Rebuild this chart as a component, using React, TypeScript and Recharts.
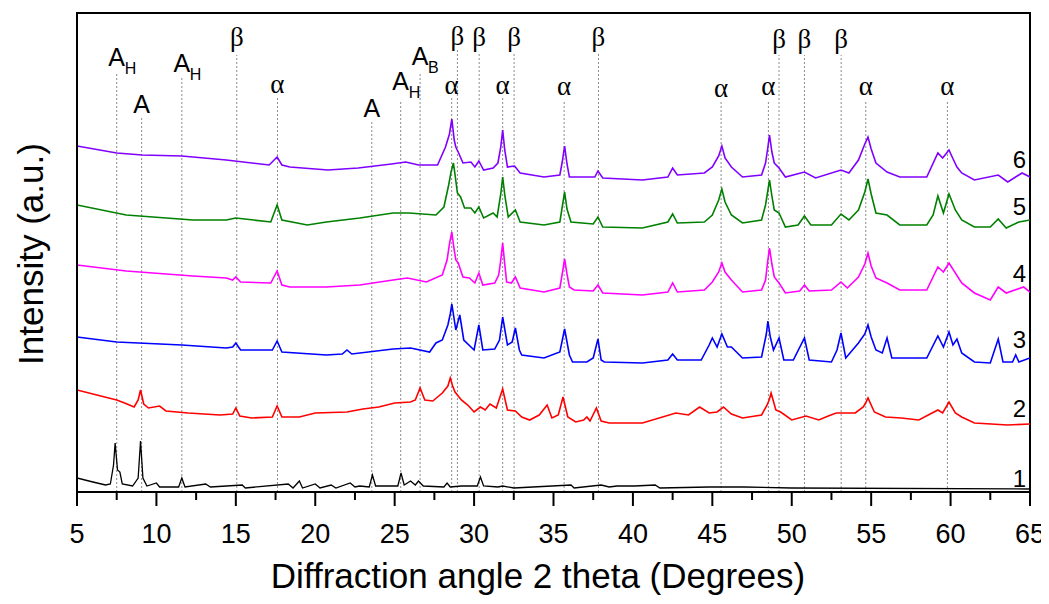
import React from "react";
import {
  LineChart,
  Line,
  XAxis,
  YAxis,
  ReferenceLine,
  ReferenceDot,
  ReferenceArea,
  LabelList,
} from "recharts";

// 2 theta (deg), intensity (a.u., offset per sample)
const trace1: [number, number][] = [
  [5, 14], [6, 10], [6.8, 7], [7.1, 8], [7.3, 27], [7.4, 49], [7.55, 22], [7.7, 20], [7.85, 8],
  [8.5, 6], [8.85, 14], [9.0, 51], [9.15, 14], [9.4, 6], [10.0, 9], [10.2, 5], [11.4, 5], [11.6, 14],
  [11.8, 5], [13.1, 8], [13.4, 5], [15.4, 7], [15.6, 4], [18.3, 8], [18.6, 4], [19.0, 11], [19.2, 4],
  [20.0, 8], [20.3, 4], [21.0, 7], [21.3, 4], [22.2, 9], [22.5, 5], [22.8, 6], [23.4, 5], [23.6, 17],
  [23.8, 6], [25.2, 6], [25.4, 19], [25.6, 7], [26.0, 11], [26.3, 7], [26.5, 11], [26.8, 6], [28.1, 5],
  [28.3, 9], [28.5, 5], [29.2, 6], [30.2, 6], [30.4, 15], [30.6, 6], [31.5, 5], [31.8, 6], [32.5, 4],
  [36.1, 7], [36.3, 4], [38.0, 7], [38.5, 5], [39.0, 6], [39.6, 6], [40.1, 6], [41.4, 7], [41.7, 4],
  [44.8, 5], [47.0, 5], [50, 4], [65, 3],
];

const trace2: [number, number][] = [
  [5, 102], [6, 98], [7, 94], [7.5, 92], [8, 89], [8.6, 85], [8.85, 92], [9.0, 102], [9.2, 88], [9.5, 84],
  [10.2, 86], [10.6, 81], [12, 79], [14, 77], [14.8, 78], [15.0, 84], [15.25, 76], [16, 74], [17.3, 75],
  [17.6, 86], [17.9, 75], [19, 75], [20, 79], [22, 80], [23, 83], [24, 85], [25, 89], [26, 90], [26.3, 92],
  [26.6, 104], [26.9, 92], [27.4, 91], [28, 99], [28.35, 106], [28.5, 114], [28.65, 106], [28.8, 100],
  [29.2, 92], [29.6, 87], [30, 80], [30.4, 85], [30.7, 82], [31, 88], [31.4, 84], [31.8, 103], [32.1, 82],
  [32.6, 81], [33, 75], [33.5, 72], [34.1, 77], [34.6, 87], [34.9, 74], [35.3, 77], [35.6, 95], [35.9, 75],
  [36.4, 70], [36.9, 72], [37.1, 75], [37.3, 71], [37.7, 84], [38, 71], [38.5, 69], [40.6, 69], [42.7, 79],
  [43.5, 77], [44.2, 85], [44.8, 79], [45.3, 80], [45.7, 85], [46.2, 78], [46.9, 74], [48.1, 77],
  [48.45, 87], [48.6, 93], [48.7, 99], [49, 82], [49.3, 80], [50, 72], [50.9, 76], [51.7, 72], [52.3, 76],
  [52.8, 79], [54, 79], [54.5, 85], [54.65, 89], [54.8, 94], [55.0, 87], [55.2, 80], [55.9, 75], [56.9, 74],
  [58, 72], [59.2, 82], [59.5, 79], [59.9, 90], [60.3, 79], [60.7, 75], [61.5, 69], [63.6, 67], [65, 68],
];

const trace3: [number, number][] = [
  [5, 155], [7.5, 150], [11.6, 147], [14.4, 144], [14.8, 145], [15.0, 149], [15.3, 142], [17.3, 142],
  [17.6, 151], [17.9, 140], [20.7, 137], [21.7, 138], [22.0, 142], [22.3, 138], [24.9, 143], [26, 144],
  [27.2, 140], [27.6, 149], [28, 152], [28.35, 167], [28.5, 178], [28.6, 188], [28.85, 162], [29.1, 177],
  [29.35, 152], [30, 142], [30.3, 167], [30.55, 142], [31.3, 143], [31.6, 152], [31.8, 175], [32.1, 147],
  [32.4, 150], [32.6, 164], [32.85, 142], [33, 137], [34.4, 134], [35.4, 140], [35.7, 163], [36, 137],
  [36.2, 130], [37.1, 130], [37.5, 134], [37.8, 153], [38, 132], [38.2, 130], [40.6, 129], [42.2, 132],
  [42.5, 138], [42.8, 132], [44.3, 132], [44.8, 147], [45, 154], [45.3, 145], [45.6, 158], [45.95, 145],
  [46.2, 145], [46.9, 134], [48.1, 135], [48.4, 158], [48.5, 171], [48.65, 155], [48.85, 142], [49.2, 154],
  [49.5, 132], [50.1, 132], [50.8, 154], [51.1, 132], [52.5, 130], [52.85, 142], [53.1, 159], [53.4, 134],
  [54.2, 149], [54.6, 158], [54.8, 167], [55.0, 155], [55.3, 142], [55.7, 139], [56, 154], [56.3, 134],
  [58.5, 134], [59.2, 156], [59.55, 145], [59.9, 160], [60.15, 147], [60.4, 153], [60.7, 139], [61.5, 130],
  [62.5, 129], [63, 153], [63.3, 130], [63.9, 130], [64.1, 137], [64.3, 130], [65, 134],
];

const trace4: [number, number][] = [
  [5, 227], [8.1, 221], [12.3, 216], [14.4, 214], [14.8, 212], [15.0, 215], [15.3, 210], [17.2, 209],
  [17.6, 221], [17.9, 207], [18.4, 205], [20.7, 205], [22.8, 207], [24.9, 212], [25.8, 214], [27, 210],
  [28, 217], [28.3, 232], [28.45, 248], [28.6, 260], [28.72, 245], [28.85, 232], [29, 229], [29.3, 215],
  [29.7, 214], [30.05, 209], [30.3, 219], [30.55, 207], [31.3, 209], [31.55, 217], [31.68, 232], [31.8, 249],
  [31.93, 228], [32.05, 210], [32.35, 209], [32.6, 215], [32.9, 204], [34.4, 200], [35.4, 204], [35.57, 220],
  [35.7, 233], [35.85, 218], [36, 205], [36.3, 202], [37.5, 201], [37.8, 207], [38.1, 199], [40.6, 197],
  [42.2, 200], [42.5, 209], [42.8, 200], [44.5, 202], [45, 210], [45.4, 220], [45.6, 229], [45.8, 220],
  [46.2, 212], [46.9, 200], [48.1, 202], [48.35, 212], [48.48, 230], [48.6, 244], [48.75, 228], [48.9, 215],
  [49.2, 209], [49.6, 199], [50.5, 201], [50.8, 207], [51.1, 201], [52.5, 202], [53.1, 210], [53.5, 204],
  [54.2, 215], [54.6, 228], [54.8, 239], [55.0, 226], [55.3, 214], [56, 209], [56.8, 202], [58.5, 202],
  [59.2, 225], [59.55, 220], [59.9, 229], [60.7, 209], [61.5, 199], [62.5, 192], [63, 205], [63.5, 199],
  [64.6, 205], [65, 200],
];

const trace5: [number, number][] = [
  [5, 287], [8.1, 277], [12.3, 272], [14.4, 272], [15, 274], [17.2, 270], [17.6, 287], [17.9, 272],
  [19.5, 267], [20.7, 270], [22.8, 274], [24.9, 279], [25.9, 279], [27.6, 277], [28.1, 285], [28.4, 307],
  [28.55, 320], [28.7, 329], [28.82, 315], [28.95, 299], [29.15, 295], [29.4, 284], [29.8, 284], [30.05, 279],
  [30.3, 285], [30.6, 274], [31.2, 279], [31.45, 275], [31.68, 298], [31.8, 315], [31.95, 295], [32.15, 275],
  [32.6, 282], [32.9, 270], [34.4, 267], [35.4, 270], [35.55, 285], [35.7, 300], [35.85, 283], [36.1, 270],
  [37.5, 268], [37.8, 275], [38.1, 265], [40.6, 264], [42.2, 270], [42.5, 278], [42.8, 269], [44.5, 270],
  [45, 277], [45.4, 292], [45.6, 303], [45.8, 290], [46.2, 277], [46.9, 269], [48.1, 272], [48.35, 287],
  [48.48, 300], [48.6, 312], [48.75, 296], [48.9, 282], [49.2, 279], [49.6, 265], [50.4, 267], [50.8, 276],
  [51.2, 267], [52.5, 267], [53.1, 278], [53.6, 272], [54.2, 282], [54.6, 300], [54.8, 313], [55.0, 298],
  [55.3, 279], [56, 277], [56.8, 267], [58.5, 267], [58.9, 277], [59.2, 296], [59.55, 279], [59.9, 298],
  [60.3, 282], [60.7, 272], [61.5, 265], [62.5, 265], [63, 273], [63.5, 264], [64.3, 270], [65, 272],
];

const trace6: [number, number][] = [
  [5, 346], [7.5, 339], [9.1, 337], [11.6, 336], [14.4, 332], [17.1, 327], [17.6, 335], [17.9, 327],
  [18.4, 325], [20.8, 322], [22.7, 324], [24.8, 328], [25.7, 330], [26.5, 327], [27.7, 327], [28.2, 345],
  [28.45, 358], [28.6, 373], [28.75, 352], [28.85, 345], [29, 340], [29.3, 329], [29.8, 330], [30.05, 325],
  [30.3, 331], [30.6, 322], [31.2, 324], [31.5, 329], [31.68, 345], [31.8, 362], [31.93, 342], [32.1, 325],
  [32.55, 326], [32.9, 319], [34.4, 315], [35.4, 317], [35.55, 330], [35.7, 346], [35.85, 328], [36, 315],
  [37.6, 315], [37.8, 321], [38.1, 314], [40.6, 312], [42.2, 315], [42.5, 324], [42.8, 317], [44.5, 319],
  [45, 325], [45.4, 336], [45.6, 346], [45.8, 334], [46.2, 325], [46.9, 315], [48.1, 317], [48.35, 329],
  [48.5, 345], [48.6, 357], [48.75, 340], [48.9, 329], [49.2, 324], [49.6, 315], [50.8, 320], [51.5, 314],
  [53.1, 322], [53.6, 319], [54.2, 332], [54.6, 348], [54.8, 355], [55.0, 343], [55.3, 329], [56, 320],
  [56.8, 315], [58.5, 315], [59.2, 339], [59.5, 334], [59.9, 342], [60.1, 335], [60.4, 325], [60.7, 319],
  [61.5, 312], [63, 317], [63.6, 310], [64.5, 319], [65, 315],
];

const sampleNames = ["1", "2", "3", "4", "5", "6"];

// phase markers
const markerPos = [7.5, 9.07, 11.6, 15.06, 17.62, 23.56, 25.38, 26.6, 28.59, 28.95, 30.32, 31.8, 32.52, 35.67, 37.83, 45.55, 48.53, 49.2, 50.8, 53.11, 54.66, 59.8];
const markerPhase = ["A", "A", "A", "β", "α", "A", "A", "A", "α", "β", "β", "α", "β", "α", "β", "α", "α", "β", "β", "β", "α", "α"];
const markerSub = ["H", "", "H", "", "", "", "H", "B", "", "", "", "", "", "", "", "", "", "", "", "", "", ""];
const markerLabelY = [426, 379, 420, 446, 399, 375, 402, 427, 398, 447, 446, 398, 446, 397, 446, 395, 397, 444, 444, 444, 397, 397];
const markerLineTop = [420, 374, 415, 437, 395, 370, 392, 420, 395, 442, 439, 395, 439, 392, 439, 390, 392, 437, 437, 437, 392, 392];

const xTicks = [5, 7.5, 10, 12.5, 15, 17.5, 20, 22.5, 25, 27.5, 30, 32.5, 35, 37.5, 40, 42.5, 45, 47.5, 50, 52.5, 55, 57.5, 60, 62.5, 65];

const traces = [trace1, trace2, trace3, trace4, trace5, trace6];
const colors = ["#000000", "#ff0000", "#0000ff", "#ff00ff", "#008000", "#8000ff"];
const nameLift = [2, 7, 10, 10, 5, 9];

const SANS = "'Liberation Sans', Arial, sans-serif";
const SERIF = "'Liberation Serif', 'DejaVu Serif', serif";

const AxisTick = (props: any) => {
  const { x, y, payload } = props;
  const major = payload.value % 5 === 0;
  return (
    <g>
      <line x1={x} x2={x} y1={y} y2={y + (major ? 14 : 8)} stroke="#000" strokeWidth={2} />
      {major && (
        <text x={x} y={y + 51} textAnchor="middle" fontSize={27} fontFamily={SANS} fill="#000">
          {payload.value}
        </text>
      )}
    </g>
  );
};

const markerShape = (i: number) => (p: any) => {
  const phase = markerPhase[i];
  const greek = phase !== "A";
  return (
    <g>
      <text
        x={p.cx}
        y={p.cy}
        textAnchor="middle"
        fontSize={greek ? 27 : 25}
        fontFamily={greek ? SERIF : SANS}
        fill="#000"
      >
        {phase}
      </text>
      {markerSub[i] && (
        <text x={p.cx + 8} y={p.cy + 8} fontSize={16} fontFamily={SANS} fill="#000">
          {markerSub[i]}
        </text>
      )}
    </g>
  );
};

export default function App() {
  return (
    <div style={{ width: 1041, height: 596 }}>
      <LineChart width={1041} height={596} margin={{ top: 5, right: 19, bottom: 0, left: 68 }}>
        <XAxis
          type="number"
          dataKey="x"
          domain={[5, 65]}
          ticks={xTicks}
          interval={0}
          allowDataOverflow
          height={112}
          tickSize={0}
          tickMargin={0}
          tickLine={false}
          tick={<AxisTick />}
          axisLine={{ stroke: "#000", strokeWidth: 2 }}
          label={(p: any) => (
            <text
              x={530}
              y={p.viewBox.y + 96}
              textAnchor="middle"
              fontSize={35}
              fontFamily={SANS}
              fill="#000"
            >
              Diffraction angle 2 theta (Degrees)
            </text>
          )}
        />
        <YAxis
          type="number"
          domain={[0, 479]}
          allowDataOverflow
          width={1}
          tick={false}
          tickLine={false}
          axisLine={{ stroke: "#000", strokeWidth: 2 }}
          label={() => (
            <text
              x={22}
              y={246}
              transform="rotate(-90 22 246)"
              textAnchor="middle"
              dominantBaseline="central"
              fontSize={35}
              fontFamily={SANS}
              fill="#000"
            >
              Intensity (a.u.)
            </text>
          )}
        />
        {markerPos.map((pos, i) => (
          <ReferenceLine
            key={"l" + i}
            segment={[
              { x: pos, y: 0 },
              { x: pos, y: markerLineTop[i] },
            ]}
            stroke="#8a8a8a"
            strokeWidth={1}
            strokeDasharray="2 2"
          />
        ))}
        {traces.map((t, i) => (
          <Line
            key={"t" + i}
            data={t.map(([x, y]) => ({ x, y }))}
            dataKey="y"
            type="linear"
            stroke={colors[i]}
            strokeWidth={i === 0 ? 1.3 : 1.6}
            dot={false}
            isAnimationActive={false}
          >
            <LabelList
              dataKey="y"
              content={(p: any) =>
                p.index === t.length - 1 ? (
                  <text
                    x={p.x - 4}
                    y={p.y - nameLift[i]}
                    textAnchor="end"
                    fontSize={24}
                    fontFamily={SANS}
                    fill="#000"
                  >
                    {sampleNames[i]}
                  </text>
                ) : null
              }
            />
          </Line>
        ))}
        {markerPos.map((pos, i) => (
          <ReferenceDot
            key={"d" + i}
            x={pos}
            y={markerLabelY[i]}
            r={0}
            shape={markerShape(i)}
          />
        ))}
        <ReferenceArea x1={5} x2={65} y1={0} y2={479} fill="none" stroke="#000" strokeWidth={2} />
      </LineChart>
    </div>
  );
}
